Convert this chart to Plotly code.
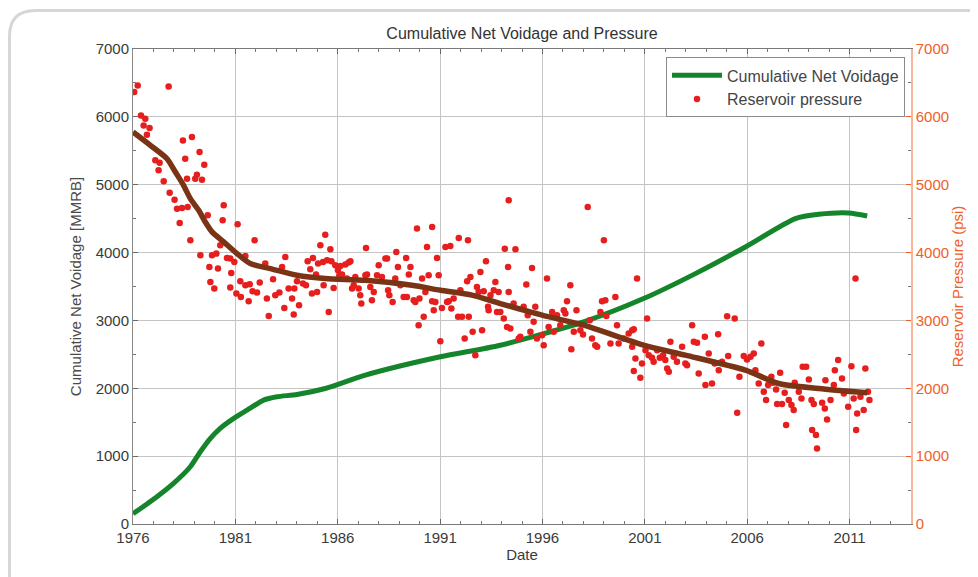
import plotly.graph_objects as go

# ---------------- data ----------------
voidage_year = [1976.0, 1977.17, 1977.98, 1978.80, 1979.29, 1979.78, 1980.26, 1980.92, 1981.57,
                1982.38, 1983.03, 1984.01, 1985.39, 1987.35, 1991.01, 1993.94, 1998.01, 2000.94,
                2003.47, 2005.91, 2008.35, 2009.49, 2010.96, 2011.86]
voidage_mmrb = [150, 403, 599, 844, 1065, 1261, 1409, 1556, 1678,
                1826, 1875, 1909, 1997, 2194, 2464, 2635, 2979, 3322,
                3690, 4083, 4500, 4564, 4584, 4539]

trend_year = [1976.0, 1976.85, 1977.66, 1978.07, 1978.47, 1978.80, 1979.21, 1979.53, 1979.86,
              1980.43, 1981.08, 1981.73, 1982.71, 1984.01, 1985.39, 1987.35, 1989.63, 1991.01,
              1992.56, 1993.94, 1995.98, 1998.01, 2000.94, 2002.98, 2005.91, 2007.54, 2009.49,
              2011.86]
trend_psi = [5776, 5580, 5383, 5187, 4991, 4794, 4623, 4451, 4304,
             4157, 3985, 3838, 3764, 3666, 3617, 3592, 3519, 3445,
             3372, 3249, 3077, 2930, 2635, 2488, 2267, 2071, 1998,
             1934]

pressure_year = [
    1976.06, 1976.23, 1977.74, 1976.39, 1976.60, 1976.52, 1976.81, 1976.68, 1978.44, 1978.88,
    1979.25, 1978.55, 1979.48, 1977.09, 1977.30, 1977.25, 1977.50, 1978.64, 1979.04, 1979.12,
    1979.37, 1977.79, 1978.03, 1978.15, 1978.39, 1978.67, 1978.28, 1978.80, 1979.29, 1979.65,
    1980.43, 1980.38, 1981.11, 1981.94, 1979.73, 1979.78, 1979.97, 1979.86, 1980.07, 1980.15,
    1980.26, 1980.59, 1980.75, 1980.95, 1980.80, 1980.75, 1981.05, 1981.27, 1981.49, 1981.24,
    1981.49, 1981.70, 1981.65, 1981.84, 1982.06, 1982.19, 1982.46, 1982.84, 1982.54, 1982.63,
    1982.95, 1983.15, 1983.28, 1983.44, 1983.39, 1983.60, 1983.88, 1983.77, 1984.11, 1983.85,
    1984.01, 1984.30, 1984.45, 1984.53, 1984.66, 1984.79, 1984.74, 1984.99, 1984.94, 1985.04,
    1985.15, 1985.28, 1985.39,
    1985.31, 1985.64, 1985.56, 1985.80, 1985.48, 1985.69, 1985.88, 1986.01, 1986.13, 1986.21,
    1986.37, 1986.53, 1986.62, 1986.08, 1986.45, 1986.70, 1986.86, 1986.78, 1987.02, 1987.10,
    1987.15, 1987.35, 1987.43, 1987.38, 1987.59, 1987.67, 1987.76, 1987.92, 1988.00, 1988.16,
    1988.33, 1988.41, 1988.46, 1988.52, 1988.68, 1988.81, 1988.86, 1988.94, 1989.06, 1989.22,
    1989.34, 1989.47, 1989.55, 1989.38, 1989.71, 1989.79, 1989.87, 1989.99, 1990.12, 1989.95,
    1990.20, 1990.28, 1990.36, 1990.44, 1990.61, 1990.61, 1990.69, 1990.77, 1990.85, 1990.93,
    1991.01, 1991.09, 1991.26, 1991.34, 1991.42, 1991.50, 1991.55, 1991.66, 1991.91, 1991.99,
    1991.88, 1992.07, 1992.20, 1992.32, 1992.36, 1992.40, 1992.48, 1992.59, 1992.72, 1992.80,
    1992.88, 1992.97, 1993.05, 1993.13, 1993.24, 1993.34, 1993.37, 1993.46, 1993.62, 1993.70,
    1993.78, 1993.86, 1993.94, 1994.11, 1994.16, 1994.27, 1994.32, 1994.35, 1994.35,
    1994.68, 1995.49, 1995.21, 1996.22, 1997.36, 1994.59, 1995.08, 1995.65, 1995.28, 1994.43,
    1994.92, 1994.84, 1995.41, 1995.57, 1995.73, 1995.98, 1996.06, 1996.30, 1996.47, 1996.55,
    1996.71, 1996.87, 1997.04, 1997.12, 1997.20, 1997.41, 1997.53, 1997.66, 1997.85, 1997.98,
    1998.31, 1998.42, 1998.58, 1998.67, 1998.83, 1998.91, 1999.07, 1999.12, 1999.32, 1999.56,
    1999.64, 1999.72, 1999.97, 2000.21, 2000.38, 2000.46, 2000.38, 2000.62, 2000.54, 2000.46,
    2000.78, 2000.86, 2001.03, 2001.11, 2001.19, 2001.35, 2001.43, 2001.60, 2001.73, 2001.89,
    2002.00, 2002.09, 2002.17, 2002.25, 2002.41, 2002.57, 2002.82, 2002.98, 2003.06, 2003.31,
    2003.39, 1998.21, 1999.00,
    2003.55, 2003.93, 2004.58, 2005.02, 2005.39, 2003.63, 2003.96, 2004.28, 2004.12, 2004.41,
    2004.61, 2004.77, 2005.07, 2005.51, 2005.62, 2005.83, 2005.99, 2006.16, 2006.32, 2006.40,
    2006.69, 2006.56, 2006.81, 2006.92, 2007.02, 2007.18, 2007.25, 2007.41, 2007.61, 2007.46,
    2007.70, 2007.83, 2007.90, 2008.03, 2008.16, 2008.27, 2008.32, 2008.52, 2008.65, 2008.71,
    2008.88, 2009.01, 2009.14, 2009.17, 2009.25, 2009.36, 2009.41, 2009.66, 2009.82, 2009.79,
    2009.90, 2010.07, 2010.23, 2010.28, 2010.44, 2010.63, 2010.72, 2010.93, 2011.09, 2011.20,
    2011.29, 2011.32, 2011.37, 2011.53, 2011.69, 2011.77, 2011.90, 2011.97,
]
pressure_psi = [
    6365, 6463, 6448, 6021, 5972, 5874, 5835, 5737, 5653, 5702,
    5481, 5383, 5295, 5359, 5324, 5212, 5050, 5089, 5089, 5148,
    5074, 4883, 4780, 4647, 4657, 4672, 4436, 4181, 3960, 4549,
    4696, 4475, 4417, 4181, 3788, 3568, 3470, 3960, 3985, 3764,
    4107, 3921, 3911, 3862, 3700, 3484, 3396, 3347, 3950, 3577,
    3519, 3533, 3283, 3430, 3411, 3558, 3838, 3607, 3322, 3067,
    3371, 3411, 3788, 3936, 3185, 3470, 3470, 3322, 3224, 3087,
    3577, 3543, 3519, 3872, 3754, 3921, 3396, 3420, 3676, 3838,
    4107, 3862, 4264,
    3519, 4049, 3126, 3479, 3887, 3872, 3813, 3740, 3803, 3676,
    3823, 3852, 3872, 3666, 3617, 3470, 3641, 3519, 3470, 3371,
    3249, 3666, 3676, 4068, 3494, 3298, 3420, 3666, 3813, 3641,
    3911, 3911, 3445, 3371, 3273, 3617, 4009, 3789, 3519, 3347,
    3921, 3676, 3789, 3347, 3298, 3273, 4353, 3322, 3617, 2930,
    3053, 3420, 4083, 3666, 4377, 3283, 3151, 3273, 3921, 3666,
    2694, 3185, 4083, 3273, 3283, 4098, 3175, 3322, 4215, 3445,
    3053, 3053, 2734, 3578, 4181, 3053, 3641, 2832, 2488, 3494,
    3420, 3715, 2856, 3430, 3872, 3200, 3151, 3371, 3445, 3568,
    3126, 3420, 3126, 3028, 4058, 2905, 3789, 3420, 4770,
    4049, 3774, 3529, 3617, 3519, 3249, 3200, 3200, 3077, 2881,
    2758, 2734, 2832, 2979, 2734, 2783, 2635, 2905, 3126, 2832,
    3077, 2930, 3151, 3102, 3283, 2577, 2832, 3151, 2856, 2792,
    3003, 2734, 2635, 2611, 3126, 3283, 3298, 3067, 2660, 3347,
    2930, 2660, 2734, 2807, 2856, 2871, 2611, 3617, 2439, 2253,
    2155, 2366, 2562, 3028, 2488, 2449, 2390, 2562, 2449, 2488,
    2415, 2292, 2243, 2684, 2464, 2390, 2611, 2366, 2341, 2930,
    2684, 4672, 4181,
    2670, 2758, 2797, 3062, 3028, 2218, 2047, 2071, 2513, 2366,
    2267, 2390, 2474, 1639, 2169, 2474, 2424, 2464, 2513, 2267,
    2660, 2071, 1949, 1826, 2047, 2169, 2081, 1983, 2228, 1767,
    1767, 1934, 1458, 1826, 1752, 1679, 2081, 1949, 1850, 2317,
    2317, 2130, 1826, 1384, 1767, 1311, 1114, 1787, 2120, 1703,
    1541, 1826, 2047, 2267, 2415, 2145, 1924, 1728, 2326, 1850,
    3617, 1384, 1630, 1875, 1679, 2292, 1949, 1826,
]

x_tick_values = [1976, 1981, 1986, 1991, 1996, 2001, 2006, 2011]
x_tick_labels = ["1976", "1981", "1986", "1991", "1996", "2001", "2006", "2011"]
y_tick_values = [0, 1000, 2000, 3000, 4000, 5000, 6000, 7000]

# ---------------- figure ----------------
FONT = "Liberation Sans, Arial, sans-serif"
GREEN = "#15852b"
BROWN = "#7a3415"
RED = "#e61e1e"
ORANGE = "#f0602a"

fig = go.Figure()

fig.add_trace(go.Scatter(
    x=voidage_year, y=voidage_mmrb, mode="lines", name="Cumulative Net Voidage",
    line=dict(color=GREEN, width=5, shape="spline", smoothing=0.7), legendrank=1, yaxis="y"))

fig.add_trace(go.Scatter(
    x=pressure_year, y=pressure_psi, mode="markers", name="Reservoir pressure",
    marker=dict(color=RED, size=6.5), legendrank=2, yaxis="y2"))

fig.add_trace(go.Scatter(
    x=trend_year, y=trend_psi, mode="lines", name="Pressure trend",
    line=dict(color=BROWN, width=5.5, shape="spline", smoothing=0.7),
    showlegend=False, yaxis="y2"))

# The page puts the figure 8 px from the window's top-left corner.
OFF = 8
FIG_W, FIG_H = 978 - OFF, 577 - OFF
# plot area in window pixels
L_WIN, R_WIN, T_WIN, B_WIN = 133.0, 911.0, 48.6, 524.0
W_PLOT, H_PLOT = R_WIN - L_WIN, B_WIN - T_WIN


def px(xw):
    return (xw - L_WIN) / W_PLOT


def py(yw):
    return (B_WIN - yw) / H_PLOT


x0, y0 = px(9.5), py(10)
rx, ry = 26 / W_PLOT, 26 / H_PLOT
frame_path = (f"M {x0},{py(600)} L {x0},{y0 - ry} Q {x0},{y0} {x0 + rx},{y0} "
              f"L {px(1000)},{y0}")

fig.update_layout(
    width=FIG_W, height=FIG_H,
    margin=dict(l=L_WIN - OFF, r=FIG_W - (R_WIN - OFF), t=T_WIN - OFF, b=FIG_H - (B_WIN - OFF)),
    paper_bgcolor="white", plot_bgcolor="white",
    font=dict(family=FONT, size=15, color="#3a3a3a"),
    title=dict(text="Cumulative Net Voidage and Pressure", x=0.5, xref="paper",
               y=1 - (33 - OFF) / FIG_H, yanchor="middle", font=dict(size=16, color="#333333")),
    showlegend=True,
    legend=dict(x=px(905), y=py(57), xanchor="right", yanchor="top",
                bgcolor="white", bordercolor="#8a8a8a", borderwidth=1,
                font=dict(size=16, color="#444444"), tracegroupgap=0,
                itemwidth=50),
    xaxis=dict(
        range=[1976, 2014], tickvals=x_tick_values, ticktext=x_tick_labels,
        showgrid=True, gridcolor="#c4c4c4", gridwidth=1,
        showline=True, linecolor="#7a7a7a", linewidth=1, mirror="ticks",
        ticks="inside", ticklen=5, tickcolor="#666666",
        minor=dict(dtick=1, tick0=1976, ticks="inside", ticklen=3, tickcolor="#777777", showgrid=False),
        zeroline=False,
        title=dict(text="Date", font=dict(size=15, color="#3a3a3a"), standoff=4),
        tickfont=dict(size=15, color="#3a3a3a"),
    ),
    yaxis=dict(
        range=[0, 7000], tickvals=y_tick_values,
        showgrid=True, gridcolor="#c4c4c4", gridwidth=1,
        showline=True, linecolor="#8a8a8a", linewidth=1,
        ticks="inside", ticklen=5, tickcolor="#666666",
        minor=dict(dtick=500, ticks="inside", ticklen=3, tickcolor="#777777", showgrid=False),
        zeroline=False,
        title=dict(text="Cumulative Net Voidage [MMRB]", font=dict(size=15, color="#4a4a4a"), standoff=10),
        tickfont=dict(size=15, color="#3a3a3a"),
    ),
    yaxis2=dict(
        range=[0, 7000], tickvals=y_tick_values, overlaying="y", side="right",
        showgrid=False, showline=True, linecolor="#f7b59c", linewidth=1.5,
        ticks="inside", ticklen=5, tickcolor=ORANGE,
        minor=dict(dtick=500, ticks="inside", ticklen=3, tickcolor="#777777"),
        zeroline=False,
        title=dict(text="Reservoir Pressure (psi)", font=dict(size=15, color=ORANGE), standoff=0),
        tickfont=dict(size=15, color=ORANGE),
    ),
    shapes=[dict(type="path", xref="paper", yref="paper", path=frame_path,
                 line=dict(color="#d6d6d6", width=3), layer="below")],
)

fig.write_html("out.html")
